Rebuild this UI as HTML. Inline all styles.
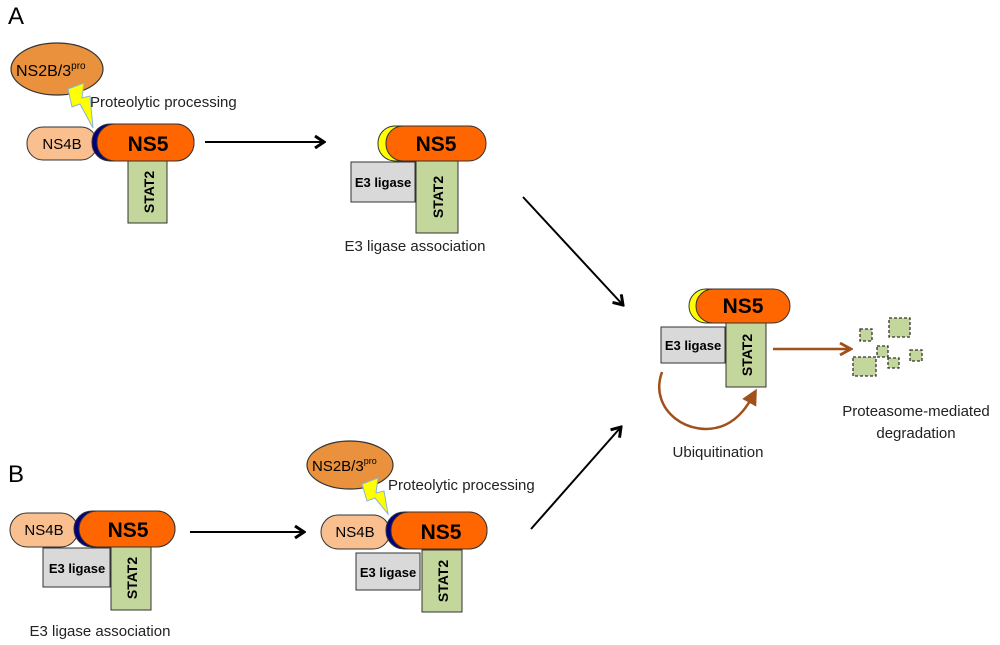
<!DOCTYPE html>
<html><head><style>body{margin:0;background:#fff}svg{display:block}text{font-family:"Liberation Sans",sans-serif}</style></head><body>
<svg width="1000" height="645" viewBox="0 0 1000 645" xmlns="http://www.w3.org/2000/svg">
<defs>
<marker id="ak" markerWidth="12" markerHeight="14" refX="10" refY="7" orient="auto" markerUnits="userSpaceOnUse"><path d="M1,1 L10,7 L1,13" fill="none" stroke="#000" stroke-width="3"/></marker>
<marker id="ab" markerWidth="14" markerHeight="14" refX="12" refY="7" orient="auto" markerUnits="userSpaceOnUse"><path d="M1,1 L12,7 L1,13" fill="none" stroke="#a0501a" stroke-width="2.8"/></marker>
<marker id="abf" markerWidth="18" markerHeight="16" refX="10" refY="8" orient="auto" markerUnits="userSpaceOnUse"><path d="M0,0 L16,8 L0,16 Z" fill="#a0501a"/></marker>
</defs>
<text x="8" y="24" font-size="24">A</text>
<text x="8" y="482" font-size="24">B</text>

<!-- A1 -->
<ellipse cx="57" cy="69" rx="46" ry="26" fill="#e9913d" stroke="#333" stroke-width="1.2"/>
<text x="16" y="76" font-size="16">NS2B/3<tspan font-size="10" dy="-7">pro</tspan></text>
<path d="M68,89 L84,83 L82,98 L90,96 L93,128 L80,104 L72,107 Z" fill="#ffff00" stroke="#8ab4d8" stroke-width="1"/>
<text x="90" y="107" font-size="15" fill="#222">Proteolytic processing</text>
<rect x="27" y="127" width="70" height="33" rx="16" fill="#f9bf8f" stroke="#333"/>
<text x="62" y="149" font-size="15" text-anchor="middle">NS4B</text>
<rect x="92" y="124" width="102" height="37" rx="18" fill="#000080" stroke="#333"/>
<rect x="97" y="124" width="97" height="37" rx="18" fill="#ff6600" stroke="#333"/>
<text x="148" y="151" font-size="21" font-weight="bold" text-anchor="middle">NS5</text>
<rect x="128" y="161" width="39" height="62" fill="#c3d69b" stroke="#333"/>
<text transform="translate(154,192) rotate(-90)" font-size="14" font-weight="bold" text-anchor="middle">STAT2</text>
<line x1="205" y1="142" x2="324" y2="142" stroke="#000" stroke-width="2" marker-end="url(#ak)"/>

<!-- A2 -->
<rect x="378" y="126" width="100" height="35" rx="17" fill="#ffff00" stroke="#333"/>
<rect x="386" y="126" width="100" height="35" rx="17" fill="#ff6600" stroke="#333"/>
<text x="436" y="151" font-size="21" font-weight="bold" text-anchor="middle">NS5</text>
<rect x="351" y="162" width="64" height="40" fill="#d9d9d9" stroke="#333"/>
<text x="383" y="187" font-size="13" font-weight="bold" text-anchor="middle">E3 ligase</text>
<rect x="416" y="161" width="42" height="72" fill="#c3d69b" stroke="#333"/>
<text transform="translate(443,197) rotate(-90)" font-size="14" font-weight="bold" text-anchor="middle">STAT2</text>
<text x="415" y="251" font-size="15" text-anchor="middle" fill="#222">E3 ligase association</text>
<line x1="523" y1="197" x2="623" y2="305" stroke="#000" stroke-width="2" marker-end="url(#ak)"/>

<!-- Final -->
<rect x="689" y="289" width="95" height="34" rx="17" fill="#ffff00" stroke="#333"/>
<rect x="696" y="289" width="94" height="34" rx="17" fill="#ff6600" stroke="#333"/>
<text x="743" y="313" font-size="21" font-weight="bold" text-anchor="middle">NS5</text>
<rect x="661" y="327" width="64" height="36" fill="#d9d9d9" stroke="#333"/>
<text x="693" y="350" font-size="13" font-weight="bold" text-anchor="middle">E3 ligase</text>
<rect x="726" y="323" width="40" height="64" fill="#c3d69b" stroke="#333"/>
<text transform="translate(752,355) rotate(-90)" font-size="14" font-weight="bold" text-anchor="middle">STAT2</text>
<path d="M662,372 C648,410 690,440 725,425 C740,418 748,405 754,394" fill="none" stroke="#a0501a" stroke-width="2.5" marker-end="url(#abf)"/>
<text x="718" y="457" font-size="15" text-anchor="middle" fill="#222">Ubiquitination</text>
<line x1="773" y1="349" x2="851" y2="349" stroke="#a0501a" stroke-width="2.5" marker-end="url(#ab)"/>
<g fill="#c3d69b" stroke="#333" stroke-dasharray="3,2" stroke-width="1.3">
<rect x="860" y="329" width="12" height="12"/>
<rect x="889" y="318" width="21" height="19"/>
<rect x="877" y="346" width="11" height="11"/>
<rect x="853" y="357" width="23" height="19"/>
<rect x="888" y="358" width="11" height="10"/>
<rect x="910" y="350" width="12" height="11"/>
</g>
<text x="916" y="416" font-size="15" text-anchor="middle" fill="#222">Proteasome-mediated</text>
<text x="916" y="438" font-size="15" text-anchor="middle" fill="#222">degradation</text>

<!-- B1 -->
<rect x="10" y="513" width="68" height="34" rx="17" fill="#f9bf8f" stroke="#333"/>
<text x="44" y="535" font-size="15" text-anchor="middle">NS4B</text>
<rect x="74" y="511" width="101" height="36" rx="18" fill="#000080" stroke="#333"/>
<rect x="79" y="511" width="96" height="36" rx="18" fill="#ff6600" stroke="#333"/>
<text x="128" y="537" font-size="21" font-weight="bold" text-anchor="middle">NS5</text>
<rect x="43" y="548" width="67" height="39" fill="#d9d9d9" stroke="#333"/>
<text x="77" y="573" font-size="13" font-weight="bold" text-anchor="middle">E3 ligase</text>
<rect x="111" y="547" width="40" height="63" fill="#c3d69b" stroke="#333"/>
<text transform="translate(137,578) rotate(-90)" font-size="14" font-weight="bold" text-anchor="middle">STAT2</text>
<text x="100" y="636" font-size="15" text-anchor="middle" fill="#222">E3 ligase association</text>
<line x1="190" y1="532" x2="304" y2="532" stroke="#000" stroke-width="2" marker-end="url(#ak)"/>

<!-- B2 -->
<ellipse cx="350" cy="465" rx="43" ry="24" fill="#e9913d" stroke="#333" stroke-width="1.2"/>
<text x="312" y="471" font-size="15">NS2B/3<tspan font-size="9" dy="-7">pro</tspan></text>
<path d="M362,484 L378,478 L376,493 L384,491 L388,514 L375,498 L367,501 Z" fill="#ffff00" stroke="#8ab4d8" stroke-width="1"/>
<text x="388" y="490" font-size="15" fill="#222">Proteolytic processing</text>
<rect x="321" y="515" width="69" height="34" rx="17" fill="#f9bf8f" stroke="#333"/>
<text x="355" y="537" font-size="15" text-anchor="middle">NS4B</text>
<rect x="386" y="512" width="101" height="37" rx="18" fill="#000080" stroke="#333"/>
<rect x="391" y="512" width="96" height="37" rx="18" fill="#ff6600" stroke="#333"/>
<text x="441" y="539" font-size="21" font-weight="bold" text-anchor="middle">NS5</text>
<rect x="356" y="553" width="64" height="37" fill="#d9d9d9" stroke="#333"/>
<text x="388" y="577" font-size="13" font-weight="bold" text-anchor="middle">E3 ligase</text>
<rect x="422" y="550" width="40" height="62" fill="#c3d69b" stroke="#333"/>
<text transform="translate(448,581) rotate(-90)" font-size="14" font-weight="bold" text-anchor="middle">STAT2</text>
<line x1="531" y1="529" x2="621" y2="427" stroke="#000" stroke-width="2" marker-end="url(#ak)"/>
</svg>
</body></html>
